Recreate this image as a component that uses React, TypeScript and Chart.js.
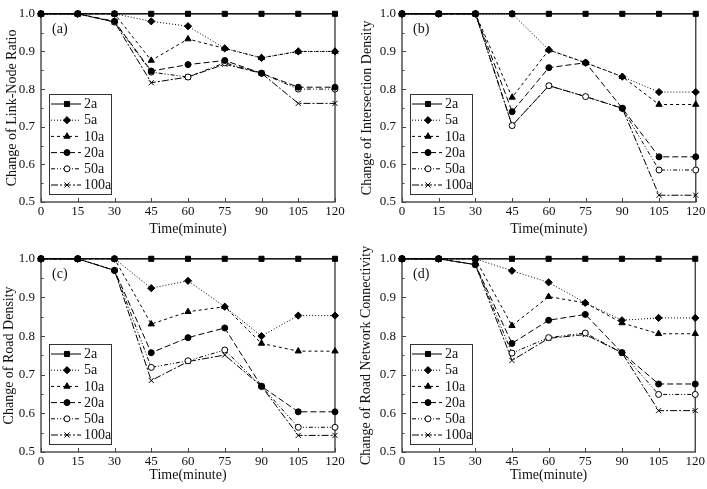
import React, { useEffect, useRef } from 'react';
import { Chart, registerables } from 'chart.js';
import { drawPoint } from 'chart.js/helpers';

Chart.register(...registerables);

const FONT = "'Liberation Serif', 'Times New Roman', serif";

const times = [0, 15, 30, 45, 60, 75, 90, 105, 120];
const seriesNames = ['2a', '5a', '10a', '20a', '50a', '100a'];
const yTickValues = [0.5, 0.6, 0.7, 0.8, 0.9, 1.0];
const yMinorValues = [0.55, 0.65, 0.75, 0.85, 0.95];

// (a) Change of Link-Node Ratio
const linkNode2a = [1, 1, 1, 1, 1, 1, 1, 1, 1];
const linkNode5a = [1, 1, 1, 0.98, 0.967, 0.908, 0.883, 0.9, 0.9];
const linkNode10a = [1, 1, 1, 0.876, 0.933, 0.908, 0.883, 0.9, 0.9];
const linkNode20a = [1, 1, 0.98, 0.848, 0.865, 0.876, 0.842, 0.805, 0.805];
const linkNode50a = [1, 1, 0.978, 0.845, 0.832, 0.87, 0.842, 0.8, 0.8];
const linkNode100a = [1, 1, 0.978, 0.817, 0.832, 0.866, 0.842, 0.762, 0.762];

// (b) Change of Intersection Density
const interDens2a = [1, 1, 1, 1, 1, 1, 1, 1, 1];
const interDens5a = [1, 1, 1, 1, 0.904, 0.87, 0.833, 0.792, 0.792];
const interDens10a = [1, 1, 1, 0.778, 0.904, 0.87, 0.833, 0.759, 0.759];
const interDens20a = [1, 1, 1, 0.74, 0.857, 0.87, 0.749, 0.62, 0.62];
const interDens50a = [1, 1, 1, 0.703, 0.809, 0.78, 0.749, 0.585, 0.585];
const interDens100a = [1, 1, 1, 0.703, 0.809, 0.78, 0.749, 0.518, 0.518];

// (c) Change of Road Density
const roadDens2a = [1, 1, 1, 1, 1, 1, 1, 1, 1];
const roadDens5a = [1, 1, 1, 0.924, 0.943, 0.876, 0.8, 0.853, 0.853];
const roadDens10a = [1, 1, 1, 0.831, 0.863, 0.876, 0.781, 0.761, 0.761];
const roadDens20a = [1, 1, 0.97, 0.757, 0.796, 0.821, 0.67, 0.604, 0.604];
const roadDens50a = [1, 1, 0.97, 0.719, 0.736, 0.764, 0.67, 0.564, 0.564];
const roadDens100a = [1, 1, 0.97, 0.685, 0.734, 0.751, 0.67, 0.543, 0.543];

// (d) Change of Road Network Connectivity
const connect2a = [1, 1, 1, 1, 1, 1, 1, 1, 1];
const connect5a = [1, 1, 1, 0.969, 0.939, 0.886, 0.841, 0.847, 0.847];
const connect10a = [1, 1, 1, 0.827, 0.902, 0.886, 0.834, 0.806, 0.806];
const connect20a = [1, 1, 0.985, 0.781, 0.841, 0.856, 0.757, 0.676, 0.676];
const connect50a = [1, 1, 0.985, 0.756, 0.796, 0.808, 0.757, 0.649, 0.649];
const connect100a = [1, 1, 0.985, 0.737, 0.794, 0.804, 0.757, 0.607, 0.607];

const seriesStyles = [
  { pointStyle: 'rect', radius: 3.6, dash: [] as number[], fill: '#000' },
  { pointStyle: 'rectRot', radius: 3.6, dash: [1, 2], fill: '#000' },
  { pointStyle: 'triangle', radius: 3.6, dash: [3, 3], fill: '#000' },
  { pointStyle: 'circle', radius: 3, dash: [6, 3], fill: '#000' },
  { pointStyle: 'circle', radius: 3, dash: [4, 2, 1, 2, 1, 2], fill: '#fff' },
  { pointStyle: 'crossRot', radius: 3.6, dash: [7, 2, 2, 2], fill: '#000' },
];

type Geo = {
  w: number; h: number; x: number; y: number;
  left: number; top: number; right: number; bottom: number;
  yTitlePad: number; xTitlePad: number; xTickPad: number;
};

const framePlugin = {
  id: 'frameTicks',
  beforeDatasetsDraw(chart: any) {
    const { ctx, chartArea } = chart;
    const xs = chart.scales.x;
    const ys = chart.scales.y;
    ctx.save();
    ctx.strokeStyle = '#444';
    ctx.lineWidth = 1.4;
    ctx.strokeRect(chartArea.left, chartArea.top, chartArea.right - chartArea.left, chartArea.bottom - chartArea.top);
    ctx.lineWidth = 1;
    ctx.beginPath();
    for (const v of yTickValues) {
      const p = Math.round(ys.getPixelForValue(v)) + 0.5;
      ctx.moveTo(chartArea.left, p);
      ctx.lineTo(chartArea.left + 4, p);
    }
    for (const v of yMinorValues) {
      const p = Math.round(ys.getPixelForValue(v)) + 0.5;
      ctx.moveTo(chartArea.left, p);
      ctx.lineTo(chartArea.left + 2.5, p);
    }
    for (const v of times) {
      const p = Math.round(xs.getPixelForValue(v)) + 0.5;
      ctx.moveTo(p, chartArea.bottom);
      ctx.lineTo(p, chartArea.bottom - 4);
    }
    ctx.stroke();
    ctx.restore();
  },
  afterDatasetsDraw(chart: any, _args: any, opts: any) {
    const { ctx, chartArea } = chart;
    ctx.save();
    // panel letter
    ctx.fillStyle = '#111';
    ctx.font = `14px ${FONT}`;
    ctx.textBaseline = 'middle';
    ctx.textAlign = 'left';
    ctx.fillText(opts.letter, chartArea.left + 11, chartArea.top + 16);
    // legend box
    const bw = 62;
    const rowH = 16.2;
    const bh = 100;
    const bx = chartArea.left + 8;
    const by = chartArea.bottom - 8 - bh;
    ctx.fillStyle = '#fff';
    ctx.fillRect(bx, by, bw, bh);
    ctx.strokeStyle = '#333';
    ctx.lineWidth = 1;
    ctx.strokeRect(bx + 0.5, by + 0.5, bw, bh);
    chart.data.datasets.forEach((ds: any, i: number) => {
      const cy = by + 10 + i * rowH;
      ctx.strokeStyle = '#000';
      ctx.lineWidth = 1;
      ctx.setLineDash(ds.borderDash || []);
      ctx.beginPath();
      ctx.moveTo(bx + 2, cy);
      ctx.lineTo(bx + 32, cy);
      ctx.stroke();
      ctx.setLineDash([]);
      ctx.fillStyle = ds.pointBackgroundColor;
      ctx.strokeStyle = '#000';
      drawPoint(ctx, { pointStyle: ds.pointStyle, radius: ds.pointRadius, rotation: 0, borderWidth: 1 }, bx + 18, cy);
      ctx.fillStyle = '#111';
      ctx.font = `14px ${FONT}`;
      ctx.textAlign = 'left';
      ctx.textBaseline = 'middle';
      ctx.fillText(ds.label, bx + 35, cy + 0.5);
    });
    ctx.restore();
  },
};

function Panel({ geo, letter, yTitle, series }: { geo: Geo; letter: string; yTitle: string; series: number[][] }) {
  const ref = useRef<HTMLCanvasElement>(null);
  useEffect(() => {
    if (!ref.current) return;
    const datasets = series.map((vals, i) => {
      const st = seriesStyles[i];
      return {
        label: seriesNames[i],
        data: vals.map((v, j) => ({ x: times[j], y: v })),
        borderColor: '#000',
        borderWidth: 1,
        borderDash: st.dash,
        pointStyle: st.pointStyle,
        pointRadius: st.radius,
        pointBackgroundColor: st.fill,
        pointBorderColor: '#000',
        pointBorderWidth: 1,
        tension: 0,
        clip: false,
        fill: false,
      };
    });
    const chart = new Chart(ref.current, {
      type: 'line',
      data: { datasets },
      plugins: [framePlugin],
      options: {
        animation: false,
        responsive: false,
        maintainAspectRatio: false,
        layout: {
          padding: { left: 0, top: geo.top, right: geo.w - geo.right, bottom: 0 },
        },
        plugins: {
          legend: { display: false },
          tooltip: { enabled: false },
          frameTicks: { letter },
        } as any,
        scales: {
          x: {
            type: 'linear',
            min: 0,
            max: 120,
            afterBuildTicks: (s: any) => { s.ticks = times.map((v) => ({ value: v })); },
            afterFit: (s: any) => { s.height = geo.h - geo.bottom; },
            grid: { display: false, drawTicks: false },
            border: { display: false },
            ticks: { color: '#111', font: { size: 13, family: FONT }, padding: geo.xTickPad, maxRotation: 0, autoSkip: false },
            title: { display: true, text: 'Time(minute)', color: '#111', font: { size: 14, family: FONT }, padding: { top: 0, bottom: geo.xTitlePad } },
          },
          y: {
            type: 'linear',
            min: 0.5,
            max: 1.0,
            afterBuildTicks: (s: any) => { s.ticks = yTickValues.map((v) => ({ value: v })); },
            afterFit: (s: any) => { s.width = geo.left; },
            grid: { display: false, drawTicks: false },
            border: { display: false },
            ticks: { color: '#111', font: { size: 13, family: FONT }, padding: 6, callback: (v: any) => Number(v).toFixed(1) },
            title: { display: true, text: yTitle, color: '#111', font: { size: 14, family: FONT }, padding: { top: geo.yTitlePad, bottom: 0 } },
          },
        },
      } as any,
    });
    return () => chart.destroy();
  }, []);
  return (
    <div style={{ position: 'absolute', left: geo.x, top: geo.y, width: geo.w, height: geo.h }}>
      <canvas ref={ref} width={geo.w} height={geo.h} style={{ display: 'block', width: geo.w, height: geo.h }} />
    </div>
  );
}

const geoA: Geo = { x: 0, y: 0, w: 353, h: 245, left: 41, top: 6, right: 335, bottom: 202, yTitlePad: 4, xTitlePad: 7.5, xTickPad: 1.5 };
const geoB: Geo = { x: 353, y: 0, w: 354, h: 245, left: 49, top: 6, right: 343, bottom: 202, yTitlePad: 6, xTitlePad: 7.5, xTickPad: 1.5 };
const geoC: Geo = { x: 0, y: 245, w: 353, h: 244, left: 41, top: 11, right: 335, bottom: 207, yTitlePad: 1, xTitlePad: 5.5, xTickPad: 2 };
const geoD: Geo = { x: 353, y: 245, w: 354, h: 244, left: 49, top: 11, right: 343, bottom: 207, yTitlePad: 5, xTitlePad: 5.5, xTickPad: 2 };

export default function App() {
  return (
    <div style={{ position: 'absolute', left: 0, top: 0, width: 707, height: 489, background: '#fff', overflow: 'hidden' }}>
      <Panel geo={geoA} letter="(a)" yTitle="Change of Link-Node Ratio"
        series={[linkNode2a, linkNode5a, linkNode10a, linkNode20a, linkNode50a, linkNode100a]} />
      <Panel geo={geoB} letter="(b)" yTitle="Change of Intersection Density"
        series={[interDens2a, interDens5a, interDens10a, interDens20a, interDens50a, interDens100a]} />
      <Panel geo={geoC} letter="(c)" yTitle="Change of Road Density"
        series={[roadDens2a, roadDens5a, roadDens10a, roadDens20a, roadDens50a, roadDens100a]} />
      <Panel geo={geoD} letter="(d)" yTitle="Change of Road Network Connectivity"
        series={[connect2a, connect5a, connect10a, connect20a, connect50a, connect100a]} />
    </div>
  );
}
